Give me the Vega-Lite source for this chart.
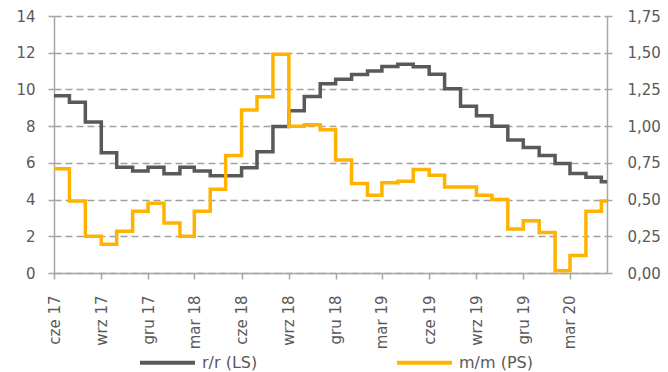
{
  "$schema": "https://vega.github.io/schema/vega-lite/v6.json",
  "width": 553,
  "height": 257,
  "autosize": "none",
  "padding": {"left": 54, "top": 16, "right": 61, "bottom": 99},
  "background": "white",
  "config": {
    "view": {"stroke": null},
    "font": "DejaVu Sans",
    "axis": {
      "labelFont": "DejaVu Sans",
      "labelFontSize": 15,
      "labelColor": "#595959",
      "domainColor": "#A6A6A6",
      "domainWidth": 1.5,
      "tickColor": "#A6A6A6",
      "tickWidth": 1.5,
      "labelOverlap": false,
      "labelBound": false,
      "title": null
    }
  },
  "data": {
    "values": [
      {"date": "2017-06-01", "series": "r/r (LS)", "value": 9.65},
      {"date": "2017-07-01", "series": "r/r (LS)", "value": 9.30},
      {"date": "2017-08-01", "series": "r/r (LS)", "value": 8.23},
      {"date": "2017-09-01", "series": "r/r (LS)", "value": 6.55},
      {"date": "2017-10-01", "series": "r/r (LS)", "value": 5.76},
      {"date": "2017-11-01", "series": "r/r (LS)", "value": 5.55},
      {"date": "2017-12-01", "series": "r/r (LS)", "value": 5.76},
      {"date": "2018-01-01", "series": "r/r (LS)", "value": 5.40},
      {"date": "2018-02-01", "series": "r/r (LS)", "value": 5.76},
      {"date": "2018-03-01", "series": "r/r (LS)", "value": 5.55},
      {"date": "2018-04-01", "series": "r/r (LS)", "value": 5.30},
      {"date": "2018-05-01", "series": "r/r (LS)", "value": 5.30},
      {"date": "2018-06-01", "series": "r/r (LS)", "value": 5.74},
      {"date": "2018-07-01", "series": "r/r (LS)", "value": 6.61},
      {"date": "2018-08-01", "series": "r/r (LS)", "value": 7.98},
      {"date": "2018-09-01", "series": "r/r (LS)", "value": 8.84},
      {"date": "2018-10-01", "series": "r/r (LS)", "value": 9.62},
      {"date": "2018-11-01", "series": "r/r (LS)", "value": 10.31},
      {"date": "2018-12-01", "series": "r/r (LS)", "value": 10.55},
      {"date": "2019-01-01", "series": "r/r (LS)", "value": 10.82},
      {"date": "2019-02-01", "series": "r/r (LS)", "value": 11.00},
      {"date": "2019-03-01", "series": "r/r (LS)", "value": 11.25},
      {"date": "2019-04-01", "series": "r/r (LS)", "value": 11.37},
      {"date": "2019-05-01", "series": "r/r (LS)", "value": 11.24},
      {"date": "2019-06-01", "series": "r/r (LS)", "value": 10.83},
      {"date": "2019-07-01", "series": "r/r (LS)", "value": 10.04},
      {"date": "2019-08-01", "series": "r/r (LS)", "value": 9.08},
      {"date": "2019-09-01", "series": "r/r (LS)", "value": 8.56},
      {"date": "2019-10-01", "series": "r/r (LS)", "value": 7.99},
      {"date": "2019-11-01", "series": "r/r (LS)", "value": 7.24},
      {"date": "2019-12-01", "series": "r/r (LS)", "value": 6.84},
      {"date": "2020-01-01", "series": "r/r (LS)", "value": 6.40},
      {"date": "2020-02-01", "series": "r/r (LS)", "value": 5.97},
      {"date": "2020-03-01", "series": "r/r (LS)", "value": 5.42},
      {"date": "2020-04-01", "series": "r/r (LS)", "value": 5.22},
      {"date": "2020-05-01", "series": "r/r (LS)", "value": 4.97},
      {"date": "2020-05-12", "series": "r/r (LS)", "value": 4.97},
      {"date": "2017-06-01", "series": "m/m (PS)", "value": 0.71},
      {"date": "2017-07-01", "series": "m/m (PS)", "value": 0.49},
      {"date": "2017-08-01", "series": "m/m (PS)", "value": 0.25},
      {"date": "2017-09-01", "series": "m/m (PS)", "value": 0.195},
      {"date": "2017-10-01", "series": "m/m (PS)", "value": 0.285},
      {"date": "2017-11-01", "series": "m/m (PS)", "value": 0.42},
      {"date": "2017-12-01", "series": "m/m (PS)", "value": 0.475},
      {"date": "2018-01-01", "series": "m/m (PS)", "value": 0.34},
      {"date": "2018-02-01", "series": "m/m (PS)", "value": 0.25},
      {"date": "2018-03-01", "series": "m/m (PS)", "value": 0.42},
      {"date": "2018-04-01", "series": "m/m (PS)", "value": 0.57},
      {"date": "2018-05-01", "series": "m/m (PS)", "value": 0.80},
      {"date": "2018-06-01", "series": "m/m (PS)", "value": 1.11},
      {"date": "2018-07-01", "series": "m/m (PS)", "value": 1.20},
      {"date": "2018-08-01", "series": "m/m (PS)", "value": 1.49},
      {"date": "2018-09-01", "series": "m/m (PS)", "value": 1.00},
      {"date": "2018-10-01", "series": "m/m (PS)", "value": 1.01},
      {"date": "2018-11-01", "series": "m/m (PS)", "value": 0.975},
      {"date": "2018-12-01", "series": "m/m (PS)", "value": 0.77},
      {"date": "2019-01-01", "series": "m/m (PS)", "value": 0.61},
      {"date": "2019-02-01", "series": "m/m (PS)", "value": 0.53},
      {"date": "2019-03-01", "series": "m/m (PS)", "value": 0.615},
      {"date": "2019-04-01", "series": "m/m (PS)", "value": 0.625},
      {"date": "2019-05-01", "series": "m/m (PS)", "value": 0.705},
      {"date": "2019-06-01", "series": "m/m (PS)", "value": 0.665},
      {"date": "2019-07-01", "series": "m/m (PS)", "value": 0.585},
      {"date": "2019-08-01", "series": "m/m (PS)", "value": 0.585},
      {"date": "2019-09-01", "series": "m/m (PS)", "value": 0.53},
      {"date": "2019-10-01", "series": "m/m (PS)", "value": 0.50},
      {"date": "2019-11-01", "series": "m/m (PS)", "value": 0.30},
      {"date": "2019-12-01", "series": "m/m (PS)", "value": 0.355},
      {"date": "2020-01-01", "series": "m/m (PS)", "value": 0.275},
      {"date": "2020-02-01", "series": "m/m (PS)", "value": 0.015},
      {"date": "2020-03-01", "series": "m/m (PS)", "value": 0.12},
      {"date": "2020-04-01", "series": "m/m (PS)", "value": 0.42},
      {"date": "2020-05-01", "series": "m/m (PS)", "value": 0.49},
      {"date": "2020-05-12", "series": "m/m (PS)", "value": 0.49}
    ]
  },
  "layer": [
    {
      "transform": [{"filter": "datum.series === 'r/r (LS)'"}],
      "mark": {"type": "line", "interpolate": "step-after", "strokeWidth": 3.5},
      "encoding": {
        "x": {
          "field": "date",
          "type": "temporal",
          "scale": {
            "type": "utc",
            "domain": [
              {"year": 2017, "month": 6, "date": 1, "utc": true},
              {"year": 2020, "month": 5, "date": 12, "utc": true}
            ]
          },
          "axis": {
            "values": [
              {"year": 2017, "month": 6, "date": 1, "utc": true},
              {"year": 2017, "month": 9, "date": 1, "utc": true},
              {"year": 2017, "month": 12, "date": 1, "utc": true},
              {"year": 2018, "month": 3, "date": 1, "utc": true},
              {"year": 2018, "month": 6, "date": 1, "utc": true},
              {"year": 2018, "month": 9, "date": 1, "utc": true},
              {"year": 2018, "month": 12, "date": 1, "utc": true},
              {"year": 2019, "month": 3, "date": 1, "utc": true},
              {"year": 2019, "month": 6, "date": 1, "utc": true},
              {"year": 2019, "month": 9, "date": 1, "utc": true},
              {"year": 2019, "month": 12, "date": 1, "utc": true},
              {"year": 2020, "month": 3, "date": 1, "utc": true}
            ],
            "labelExpr": "['sty','lut','mar','kwi','maj','cze','lip','sie','wrz','paź','lis','gru'][utcmonth(datum.value)] + ' ' + utcFormat(datum.value, '%y')",
            "labelAngle": -90,
            "labelFlush": false,
            "grid": false,
            "tickSize": 6,
            "labelPadding": 16
          }
        },
        "y": {
          "field": "value",
          "type": "quantitative",
          "scale": {"domain": [0, 14], "nice": false},
          "axis": {
            "orient": "left",
            "values": [0, 2, 4, 6, 8, 10, 12, 14],
            "grid": true,
            "gridDash": [7, 4],
            "gridColor": "#A0A0A0",
            "gridWidth": 1.5,
            "tickSize": 6,
            "labelPadding": 13
          }
        },
        "color": {
          "field": "series",
          "type": "nominal",
          "scale": {"domain": ["r/r (LS)", "m/m (PS)"], "range": ["#58595B", "#FFB300"]},
          "legend": {
            "orient": "none",
            "direction": "horizontal",
            "legendX": 84,
            "legendY": 317,
            "title": null,
            "symbolType": "stroke",
            "symbolStrokeWidth": 4,
            "symbolSize": 3025,
            "labelFont": "DejaVu Sans",
            "labelFontSize": 16,
            "labelColor": "#595959",
            "labelOffset": 5,
            "columnPadding": 131
          }
        }
      }
    },
    {
      "transform": [{"filter": "datum.series === 'm/m (PS)'"}],
      "mark": {"type": "line", "interpolate": "step-after", "strokeWidth": 3.5},
      "encoding": {
        "x": {"field": "date", "type": "temporal"},
        "y": {
          "field": "value",
          "type": "quantitative",
          "scale": {"domain": [0, 1.75], "nice": false},
          "axis": {
            "orient": "right",
            "values": [0, 0.25, 0.5, 0.75, 1, 1.25, 1.5, 1.75],
            "labelExpr": "replace(format(datum.value, '.2f'), '.', ',')",
            "grid": false,
            "tickSize": 5,
            "labelPadding": 15
          }
        },
        "color": {"field": "series", "type": "nominal"}
      }
    }
  ],
  "resolve": {"scale": {"y": "independent"}}
}
